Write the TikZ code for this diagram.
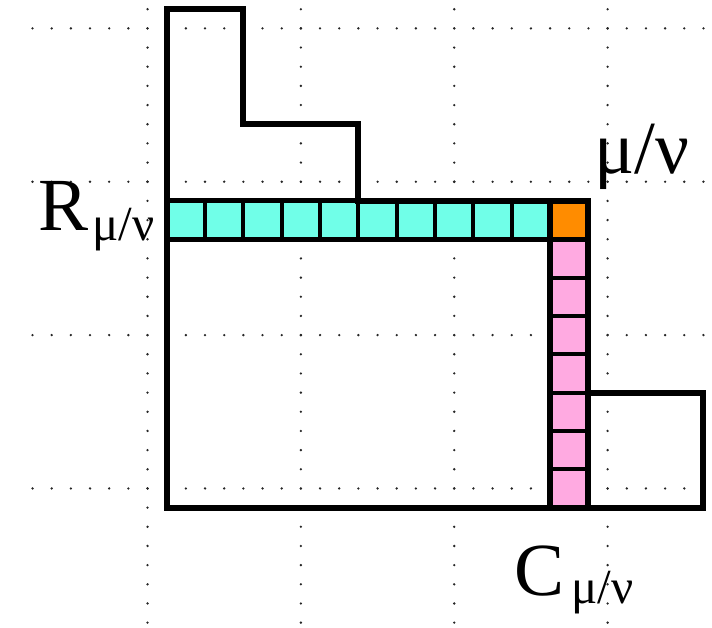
\documentclass[tikz,border=0pt]{standalone}
\usepackage{fontspec}
\setmainfont{Liberation Serif}
\newfontfamily\lbserif{Liberation Serif}
\definecolor{cellcyan}{RGB}{112,255,232}
\definecolor{cellorange}{RGB}{255,140,0}
\definecolor{cellpink}{RGB}{255,170,225}
\begin{document}
\begin{tikzpicture}[x=9.585pt,y=-9.585pt,
  griddot/.style={fill=black!85},
  cell/.style={draw=black,line width=2pt},
  outline/.style={draw=black,line width=3pt,line join=miter},
  biglabel/.style={inner sep=0pt,anchor=base west,font=\lbserif\fontsize{37.5}{40}\selectfont},
  sublabel/.style={inner sep=0pt,anchor=base west,font=\lbserif\fontsize{24.5}{26}\selectfont}]
\useasboundingbox (-8.696,-0.48) rectangle (28.446,32.228);
% dotted grid
\foreach \gy in {1,9,17,25}{\foreach \i in {-7,...,28}{\fill[griddot] (\i,\gy) circle (0.65pt);}}
\foreach \gx in {-1,7,15,23}{\foreach \j in {0,...,32}{\fill[griddot] (\gx,\j) circle (0.65pt);}}
% cells
\foreach \k in {0,...,9}{\draw[cell,fill=cellcyan] (2*\k,10) rectangle ++(2,2);}
\draw[cell,fill=cellorange] (20,10) rectangle (22,12);
\foreach \k in {0,...,6}{\draw[cell,fill=cellpink] (20,12+2*\k) rectangle ++(2,2);}
\draw[draw=black,line width=2.5pt] (0,10) rectangle (22,12);
\draw[outline] (20,10) rectangle (22,26);
% outline
\draw[outline] (0,0) -- (4,0) -- (4,6) -- (10,6) -- (10,10) -- (22,10) -- (22,20) -- (28,20) -- (28,26) -- (0,26) -- cycle;
% labels
\node[biglabel] (R) at (-6.71,11.52) {R};
\node[sublabel] (Rsub) at (-3.89,12.04) {μ/ν};
\node[biglabel] (MN) at (22.30,8.545) {μ/ν};
\node[biglabel] (C) at (18.13,30.56) {C};
\node[sublabel] (Csub) at (21.10,30.98) {μ/ν};
\end{tikzpicture}
\end{document}
